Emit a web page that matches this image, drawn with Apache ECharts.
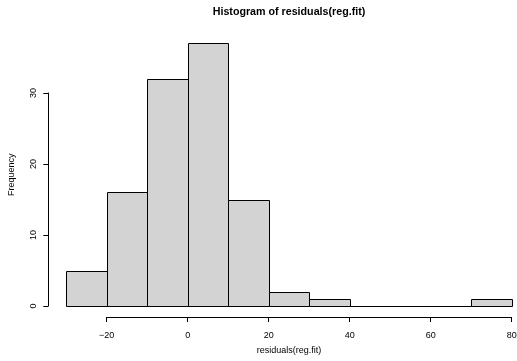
<!DOCTYPE html>
<html>
<head>
<meta charset="utf-8">
<script src="https://cdn.jsdelivr.net/npm/echarts@6/dist/echarts.min.js"></script>
<style>
  html, body { margin: 0; padding: 0; background: #fff; }
  #chart { width: 517px; height: 361px; }
</style>
</head>
<body>
<div id="chart"></div>
<script>
// Histogram bin edges and counts of the regression residuals
const breaks = [-30, -20, -10, 0, 10, 20, 30, 40, 50, 60, 70, 80];
const counts = [5, 16, 32, 37, 15, 2, 1, 0, 0, 0, 1];
// Tick labels drawn on the two axes
const xTicks = [-20, 0, 20, 40, 60, 80];
const yTicks = [0, 10, 20, 30];

const bins = counts.map((n, i) => [breaks[i], breaks[i + 1], n]);
const font = 'Liberation Sans, Arial, Helvetica, sans-serif';
const minus = v => String(v).replace('-', '\u2212');

const chart = echarts.init(document.getElementById('chart'), null, { renderer: 'canvas' });

chart.setOption({
  animation: false,
  backgroundColor: '#ffffff',
  graphic: [{
    type: 'text',
    x: 289,
    y: 12,
    style: {
      text: 'Histogram of residuals(reg.fit)',
      fontFamily: font, fontSize: 10.7, fontWeight: 'bold', fill: '#000',
      align: 'center', verticalAlign: 'middle'
    }
  }],
  grid: [
    // plotting area for the bars
    { left: 66.2, right: 5.3, top: 43.3, bottom: 55, outerBoundsMode: 'none', containLabel: false },
    // detached x axis below the bars
    { left: 106.7, right: 5.3, top: 300, bottom: 44, outerBoundsMode: 'none', containLabel: false },
    // detached y axis to the left of the bars
    { left: 48.3, width: 10, top: 93, bottom: 55, outerBoundsMode: 'none', containLabel: false }
  ],
  xAxis: [
    {
      gridIndex: 0, type: 'value', min: breaks[0], max: breaks[breaks.length - 1],
      axisLine: { show: false }, axisTick: { show: false }, axisLabel: { show: false },
      splitLine: { show: false },
      name: 'residuals(reg.fit)', nameLocation: 'middle', nameGap: 40,
      nameTextStyle: { fontFamily: font, fontSize: 9, color: '#000' }
    },
    {
      gridIndex: 1, type: 'value', position: 'bottom',
      min: xTicks[0], max: xTicks[xTicks.length - 1], interval: xTicks[1] - xTicks[0],
      axisLine: { show: true, lineStyle: { color: '#000', width: 1 } },
      axisTick: { show: true, length: 5, lineStyle: { color: '#000' } },
      axisLabel: { show: true, margin: 14, fontFamily: font, fontSize: 9, color: '#000', formatter: minus },
      splitLine: { show: false }
    },
    { gridIndex: 2, type: 'value', show: false }
  ],
  yAxis: [
    {
      gridIndex: 0, type: 'value', min: 0, max: 37,
      axisLine: { show: false }, axisTick: { show: false }, axisLabel: { show: false },
      splitLine: { show: false },
      name: 'Frequency', nameLocation: 'middle', nameGap: 50, nameRotate: 90,
      nameTextStyle: { fontFamily: font, fontSize: 9, color: '#000' }
    },
    { gridIndex: 1, type: 'value', show: false },
    {
      gridIndex: 2, type: 'value', position: 'left',
      min: yTicks[0], max: yTicks[yTicks.length - 1], interval: yTicks[1] - yTicks[0],
      axisLine: { show: true, lineStyle: { color: '#000', width: 1 } },
      axisTick: { show: true, length: 5, lineStyle: { color: '#000' } },
      axisLabel: { show: true, margin: 10, rotate: 90, fontFamily: font, fontSize: 9, color: '#000' },
      splitLine: { show: false }
    }
  ],
  series: [{
    type: 'custom',
    xAxisIndex: 0,
    yAxisIndex: 0,
    clip: false,
    data: bins,
    renderItem: function (params, api) {
      const p0 = api.coord([api.value(0), 0]);
      const p1 = api.coord([api.value(1), api.value(2)]);
      const x0 = Math.round(p0[0]) + 0.5, x1 = Math.round(p1[0]) + 0.5;
      const yb = Math.round(p0[1]) + 0.5, yt = Math.round(p1[1]) + 0.5;
      return {
        type: 'rect',
        shape: { x: x0, y: yt, width: x1 - x0, height: yb - yt },
        style: { fill: '#d3d3d3', stroke: '#000', lineWidth: 1 }
      };
    }
  }]
});
</script>
</body>
</html>
